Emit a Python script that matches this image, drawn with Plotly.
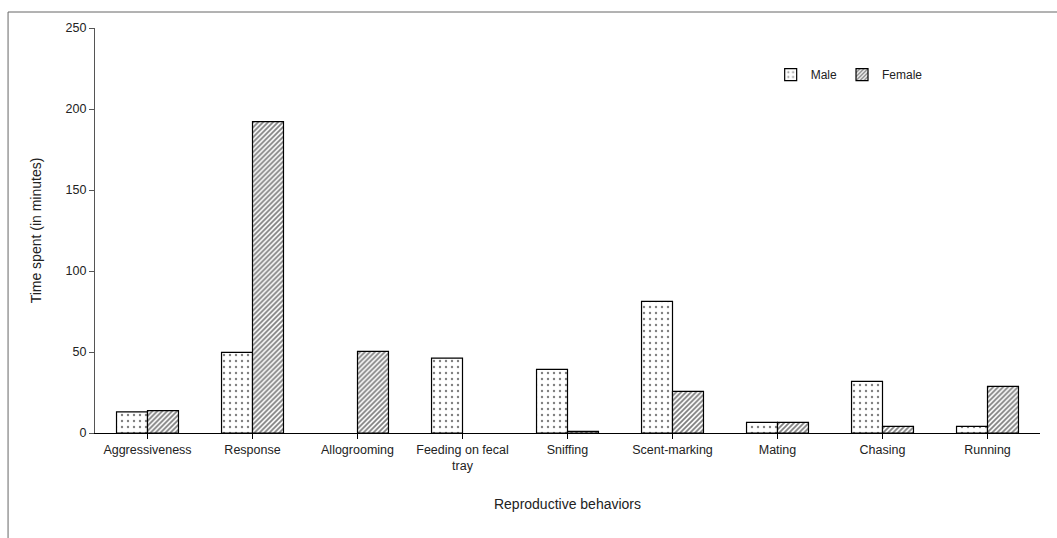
import plotly.graph_objects as go

categories = ["Aggressiveness", "Response", "Allogrooming", "Feeding on fecal<br>tray",
              "Sniffing", "Scent-marking", "Mating", "Chasing", "Running"]
male = [13.1, 49.8, None, 46.2, 39.3, 81.3, 6.6, 31.9, 4.1]
female = [13.8, 192.2, 50.4, None, 1.0, 25.7, 6.6, 4.1, 28.8]
y_ticks = [0, 50, 100, 150, 200, 250]

font = "Liberation Sans, Arial, sans-serif"

fig = go.Figure()
fig.add_bar(x=categories, y=male, name="Male",
            marker=dict(color="white", line=dict(color="black", width=1.2),
                        pattern=dict(shape=".", fgcolor="black", bgcolor="white", size=6, solidity=0.12)))
fig.add_bar(x=categories, y=female, name="Female",
            marker=dict(color="white", line=dict(color="black", width=1.2),
                        pattern=dict(shape="/", fgcolor="black", bgcolor="white", size=3.5, solidity=0.5)))

fig.update_layout(
    width=1057, height=538,
    margin=dict(l=95, r=17, t=28, b=105),
    paper_bgcolor="white", plot_bgcolor="white",
    barmode="group", bargap=0.41, bargroupgap=0,
    font=dict(family=font, size=12, color="#222"),
    showlegend=True,
    legend=dict(orientation="h", x=0.715, y=0.885, xanchor="left", yanchor="middle",
                bgcolor="rgba(0,0,0,0)", font=dict(size=12), itemwidth=30,
                traceorder="normal"),
    xaxis=dict(showline=True, linecolor="black", linewidth=1.2, ticks="outside",
               ticklen=5, tickcolor="black", showgrid=False, tickangle=0,
               tickfont=dict(size=12.5),
               title=dict(text="Reproductive behaviors", font=dict(size=14), standoff=26)),
    yaxis=dict(range=[0, 250], tickvals=y_ticks, showline=True, linecolor="#555",
               linewidth=1.2, ticks="outside", ticklen=5, tickcolor="#555",
               showgrid=False, zeroline=False, tickfont=dict(size=12.5),
               title=dict(text="Time spent (in minutes)", font=dict(size=14), standoff=20)),
    shapes=[dict(type="rect", xref="paper", yref="paper", x0=-0.092, x1=1.2, y0=-0.5, y1=1.0395,
                 line=dict(color="#666", width=1), fillcolor="rgba(0,0,0,0)", layer="below")],
)

fig.write_html("out.html", config={"displayModeBar": False},
               post_script="document.body.style.margin='0';")
